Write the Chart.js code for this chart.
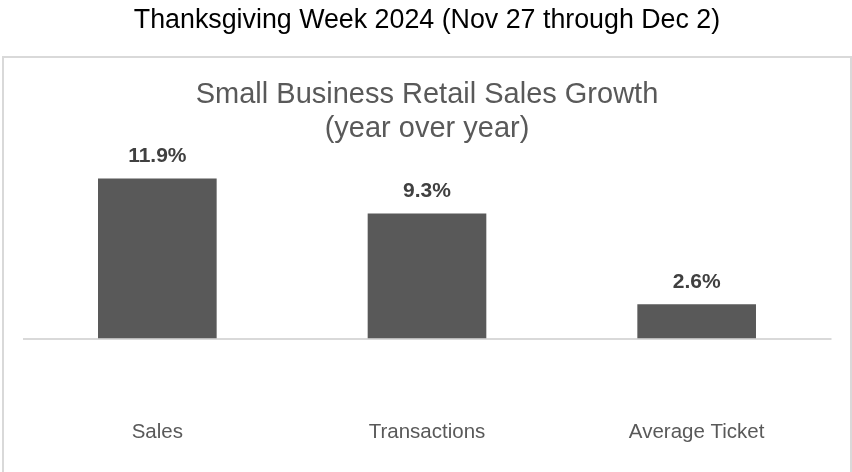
<!DOCTYPE html>
<html>
<head>
<meta charset="utf-8">
<script src="https://cdn.jsdelivr.net/npm/chart.js@4/dist/chart.umd.min.js"></script>
<style>
  html, body { margin: 0; padding: 0; background: #ffffff; overflow: hidden; }
  #stage { position: relative; width: 852px; height: 472px; }
  #frame {
    position: absolute; left: 2px; top: 56px; width: 850px; height: 440px;
    box-sizing: border-box; border: 2px solid #d9d9d9;
  }
  #wrap { position: absolute; left: 0; top: 0; width: 852px; height: 472px; }
</style>
</head>
<body>
<div id="stage">
  <div id="frame"></div>
  <div id="wrap"><canvas id="chart"></canvas></div>
</div>
<script>
// Year-over-year growth during Thanksgiving week, in percent
const categories = ['Sales', 'Transactions', 'Average Ticket'];
const growthPct = [11.9, 9.3, 2.6];
const pageTitle = 'Thanksgiving Week 2024 (Nov 27 through Dec 2)';
const chartTitle = ['Small Business Retail Sales Growth', '(year over year)'];

const FONT = "'Liberation Sans', Arial, sans-serif";

// Writes the percentage above each bar
const barValueLabels = {
  id: 'barValueLabels',
  afterDatasetsDraw(chart) {
    const ctx = chart.ctx;
    const meta = chart.getDatasetMeta(0);
    ctx.save();
    ctx.font = 'bold 21px ' + FONT;
    ctx.fillStyle = '#404040';
    ctx.textAlign = 'center';
    ctx.textBaseline = 'middle';
    meta.data.forEach((bar, i) => {
      const v = chart.data.datasets[0].data[i];
      ctx.fillText(v.toFixed(1) + '%', bar.x, bar.y - 22);
    });
    ctx.restore();
  }
};

new Chart(document.getElementById('chart'), {
  type: 'bar',
  data: {
    labels: categories,
    datasets: [{
      data: growthPct,
      backgroundColor: '#595959',
      borderWidth: 0,
      barPercentage: 0.44,
      categoryPercentage: 1.0
    }]
  },
  options: {
    responsive: true,
    maintainAspectRatio: false,
    animation: false,
    layout: { padding: { left: 22.5, right: 20.5, top: 0, bottom: 27 } },
    plugins: {
      legend: { display: false },
      tooltip: { enabled: false },
      title: {
        display: true,
        text: pageTitle,
        color: '#000000',
        font: { family: FONT, size: 26.8, weight: 'normal', lineHeight: 1.2 },
        padding: { top: 5, bottom: 0 }
      },
      subtitle: {
        display: true,
        text: chartTitle,
        color: '#595959',
        font: { family: FONT, size: 29, weight: 'normal', lineHeight: 1.18 },
        padding: { top: 41, bottom: 3.5 }
      }
    },
    scales: {
      x: {
        grid: { display: false, drawTicks: false },
        border: { display: false },
        ticks: {
          color: '#595959',
          padding: 0,
          font: { family: FONT, size: 20.5, lineHeight: 1.2 }
        }
      },
      y: {
        min: -6,
        max: 14,
        border: { display: false },
        ticks: { display: false, stepSize: 2 },
        grid: {
          drawTicks: false,
          lineWidth: 2,
          color: (ctx) => (ctx.tick && ctx.tick.value === 0 ? '#d9d9d9' : 'rgba(0,0,0,0)')
        }
      }
    }
  },
  plugins: [barValueLabels]
});
</script>
</body>
</html>
